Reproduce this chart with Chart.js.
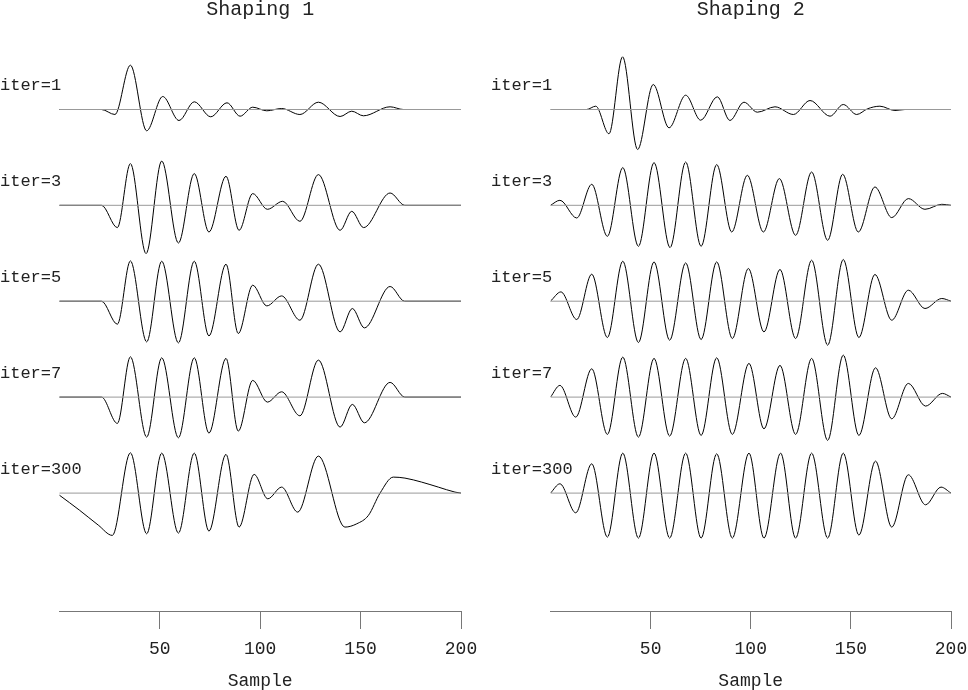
<!DOCTYPE html>
<html>
<head>
<meta charset="utf-8">
<script src="https://cdn.jsdelivr.net/npm/chart.js@4"></script>
<style>
  html, body { margin: 0; background: #fff; overflow: hidden; }
  canvas { position: absolute; top: 0; }
  #left { left: 0; }
  #right { left: 475px; }
</style>
</head>
<body>
<canvas id="left" width="487" height="690"></canvas>
<canvas id="right" width="502" height="690"></canvas>
<script>
// [sample, amplitude] at the turning points of each trace
const shaping1Iter1 = [[0,0],[21,0],[27.7,-5],[35.4,44.3],[43.5,-21.3],[51.5,13],[59.6,-11],[67.2,7.7],[75.4,-7.3],[83.5,6.7],[90,-6.7],[96.3,2.3],[103.3,-1.3],[110.7,1],[119.8,-5],[129,7.3],[139.8,-7],[145.6,-1.7],[151.4,-6.3],[164.7,2.7],[171.3,0],[200,0]];
const shaping1Iter3 = [[0,0],[21,0],[28.9,-22.3],[35.4,41.7],[43.2,-48.3],[51,44.3],[59.3,-37.7],[67.2,31.7],[74.5,-26.7],[83,29],[89.5,-25],[96.3,11.7],[103.6,-4],[111.2,4],[119.8,-16],[129,30.7],[139.8,-25],[145.6,-6],[151.5,-22.3],[164.7,12.3],[172,0],[200,0]];
const shaping1Iter5 = [[0,0],[21,0],[28.9,-23],[35.4,40.3],[43.5,-40.7],[51,40],[59.3,-41.7],[67.2,40],[74.5,-34.7],[83,37],[89.1,-32.3],[96.3,16],[103.3,-4.7],[110.7,5.3],[119.8,-19],[129,37],[139.8,-30.7],[145.9,-7.3],[151.9,-26.7],[164.7,14.7],[171.9,0],[200,0]];
const shaping1Iter7 = [[0,0],[21,0],[28.9,-26.3],[35.4,40.3],[43.5,-40],[51,39.3],[59.3,-40.7],[67.2,39.3],[74.5,-36],[83,38.7],[89.1,-34],[96.3,16.7],[103.6,-5],[110.7,5.3],[119.8,-18.7],[129,37],[139.8,-30],[145.9,-7.3],[151.9,-25.7],[164.7,14.7],[172,0],[200,0]];
const shaping1Iter300 = [[0,-2],[10,-17],[19.4,-32],[26.4,-42.3],[35.4,40.3],[43.5,-40.7],[51,40],[59.3,-40],[67.2,40],[74.5,-38],[83,38.7],[89.5,-34],[97,18.7],[103.8,-5.7],[110.7,6],[118.7,-19],[129,37],[142.2,-34],[148.1,-30.7],[153.9,-22.3],[159.7,0],[166.3,16],[172.1,15],[180.4,11],[188.7,6],[197,1],[200,0]];

const shaping2Iter1 = [[0,0],[18,0],[22.6,3.3],[29.2,-24.3],[36,52.7],[43.5,-40],[51.3,25],[59.2,-18.3],[67.5,14.3],[75,-10.7],[83.3,12.7],[89.6,-11],[96.6,7.3],[103.3,-2.7],[112.1,2.7],[121.3,-5],[129.6,9],[139.6,-6.7],[146.2,5],[152.9,-5],[158.3,0.7],[164.5,3.3],[172,-1],[177,0],[200,0]];
const shaping2Iter3 = [[0,0],[4.7,5],[13.1,-12.7],[20.6,21],[28.4,-31],[36.1,37.7],[43.9,-41],[51.7,42.7],[59.7,-42.3],[67.5,43.3],[75.2,-41],[83,40.7],[90.5,-26.7],[98.3,30],[106.3,-26.7],[114.3,26.7],[122.4,-30],[130.4,33.3],[138.4,-35],[145.9,31],[153.7,-26.7],[162,18.3],[170.4,-12.3],[178.7,6.7],[187,-4],[195.4,1],[200,0]];
const shaping2Iter5 = [[0,0],[5.2,9.3],[13.1,-18.3],[20.6,27],[28.4,-36.3],[36.1,40],[43.9,-41.3],[51.7,39.3],[59.5,-39],[67.5,38.3],[75.2,-38.3],[83,39.3],[90.8,-37.3],[98.8,32.7],[106.6,-30.7],[114.6,31.7],[122.4,-37.3],[130.4,41],[138.4,-44],[146.2,41.7],[154,-36.3],[162,26.7],[170.4,-19],[178.7,11],[187,-7.3],[195.4,2.7],[200,0]];
const shaping2Iter7 = [[0,0],[4.7,11.7],[12.6,-20],[20.6,28.3],[28.4,-37.3],[36.1,40],[43.9,-40],[51.7,38.7],[59.5,-39],[67.5,38.7],[75.2,-38.3],[83,39.3],[90.8,-37.3],[99.1,33.7],[106.6,-31.7],[114.6,31.7],[122.4,-37.3],[130.4,38.7],[138.4,-43.3],[146.2,42],[154,-38.3],[162.3,29.3],[170.4,-21.7],[178.7,13.7],[187.3,-9],[195.7,3.7],[200,0]];
const shaping2Iter300 = [[0,0],[4.7,9.3],[12.6,-19.7],[20.6,29.3],[28.4,-44],[36.1,40],[43.9,-45],[51.7,40],[59.5,-45],[67.5,40],[75.2,-45],[83,39.3],[90.8,-45],[99.1,40],[106.6,-45],[114.9,40],[122.4,-45],[130.4,40],[138.4,-45],[146.2,40],[154,-42],[162.3,32],[170.4,-34],[178.7,18.3],[187.3,-11.7],[195,6],[200,0]];

const iterLabels = ['iter=1', 'iter=3', 'iter=5', 'iter=7', 'iter=300'];
const traceOffsets = [501.5, 405.7, 309.8, 213.9, 117.9];
const xTicks = [50, 100, 150, 200];

const FONT = '"Liberation Mono", "DejaVu Sans Mono", monospace';

function makePanel(id, title, traces, padLeft, padRight, labelX) {
  const datasets = [];
  // zero lines first so the wiggles sit on top
  traceOffsets.forEach(off => {
    datasets.push({
      data: [{x: 0, y: off}, {x: 200, y: off}],
      borderColor: '#999',
      borderWidth: 1,
      pointRadius: 0
    });
  });
  traces.forEach((tr, i) => {
    datasets.push({
      data: tr.map(p => ({x: p[0], y: traceOffsets[i] + p[1]})),
      borderColor: '#000',
      borderWidth: 1,
      pointRadius: 0,
      cubicInterpolationMode: 'monotone'
    });
  });

  const textPlugin = {
    id: 'panelText',
    afterDraw(chart) {
      const c = chart.ctx;
      const area = chart.chartArea;
      const y = chart.scales.y;
      c.save();
      c.fillStyle = '#222';
      c.textBaseline = 'middle';
      c.font = '20px ' + FONT;
      c.textAlign = 'center';
      c.fillText(title, (area.left + area.right) / 2, 10);
      c.font = '17px ' + FONT;
      c.textAlign = 'left';
      iterLabels.forEach((lab, i) => {
        c.fillText(lab, labelX, y.getPixelForValue(traceOffsets[i]) - 24);
      });
      c.restore();
    }
  };

  new Chart(document.getElementById(id), {
    type: 'line',
    data: { datasets },
    options: {
      responsive: false,
      animation: false,
      layout: { padding: { left: padLeft, right: padRight, top: 30, bottom: 0 } },
      plugins: { legend: { display: false }, tooltip: { enabled: false } },
      scales: {
        x: {
          type: 'linear',
          min: 0,
          max: 200,
          afterBuildTicks: s => { s.ticks = [0].concat(xTicks).map(v => ({value: v})); },
          afterFit: s => { s.height = 79; },
          ticks: {
            callback: v => (v === 0 ? '' : v),
            font: { family: FONT, size: 18 },
            color: '#222',
            padding: 9,
            maxRotation: 0,
            autoSkip: false
          },
          grid: {
            drawOnChartArea: false,
            tickLength: 18,
            tickColor: ctx => (ctx.tick && ctx.tick.value === 0 ? 'rgba(0,0,0,0)' : '#777')
          },
          border: { color: '#777', width: 1 },
          title: {
            display: true,
            text: 'Sample',
            font: { family: FONT, size: 18, lineHeight: 1 },
            color: '#222',
            padding: { top: 0, bottom: 0 }
          }
        },
        y: { display: false, min: 0, max: 581 }
      }
    },
    plugins: [textPlugin]
  });
}

makePanel('left', 'Shaping 1',
  [shaping1Iter1, shaping1Iter3, shaping1Iter5, shaping1Iter7, shaping1Iter300],
  59.3, 26, 0);
makePanel('right', 'Shaping 2',
  [shaping2Iter1, shaping2Iter3, shaping2Iter5, shaping2Iter7, shaping2Iter300],
  75.5, 26, 16);
</script>
</body>
</html>
